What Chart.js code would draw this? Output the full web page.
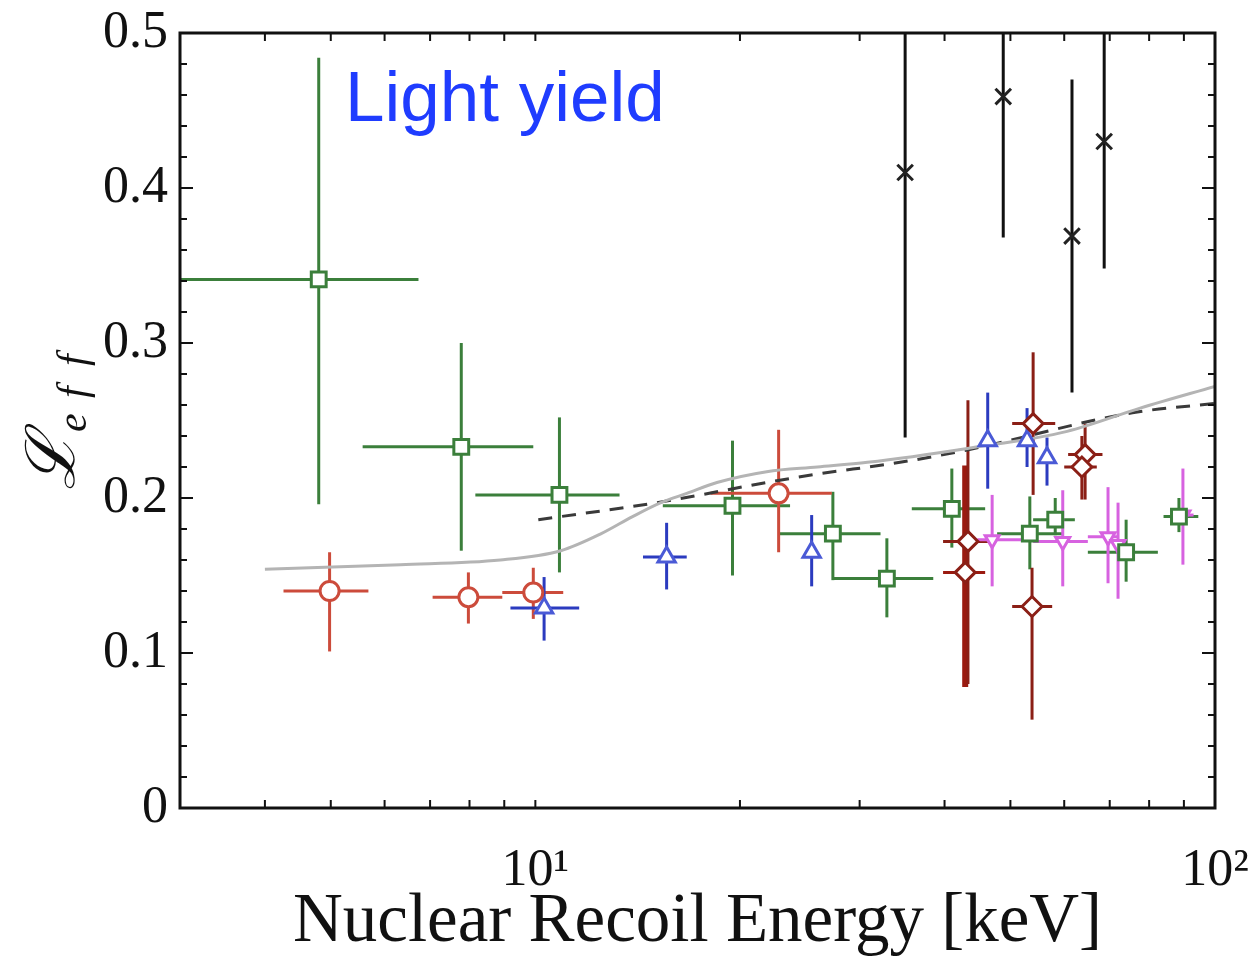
<!DOCTYPE html>
<html>
<head>
<meta charset="utf-8">
<script src="https://cdn.jsdelivr.net/npm/chart.js@4.4.1/dist/chart.umd.min.js"></script>
<style>
  body { margin: 0; background: #fff; }
  #wrap { width: 1256px; height: 957px; position: relative; }
</style>
</head>
<body>
<div id="wrap"><canvas id="leff"></canvas></div>
<script>
// values (energy in keV, Leff)
const greenE   = [4.80, 7.78, 10.85, 19.5, 27.4, 32.9, 41.0, 53.4, 58.2, 74.0, 88.5];
const greenL   = [0.341, 0.233, 0.202, 0.195, 0.177, 0.148, 0.193, 0.177, 0.186, 0.165, 0.188];
const greenELo = [3.0, 5.57, 8.16, 15.4, 22.9, 27.4, 35.8, 47.8, 54.0, 65.0, 84.0];
const greenEHi = [6.73, 9.93, 13.3, 23.7, 32.2, 38.5, 45.9, 59.7, 62.2, 82.4, 94.5];
const greenLLo = [0.196, 0.166, 0.152, 0.150, 0.147, 0.123, 0.168, 0.154, 0.176, 0.146, 0.178];
const greenLHi = [0.484, 0.300, 0.252, 0.237, 0.204, 0.174, 0.219, 0.201, 0.200, 0.186, 0.200];

const redE   = [4.98, 7.97, 9.93, 22.8];
const redL   = [0.140, 0.136, 0.139, 0.203];
const redELo = [4.26, 7.06, 8.94, 18.1];
const redEHi = [5.68, 8.94, 10.99, 27.3];
const redLLo = [0.101, 0.119, 0.122, 0.165];
const redLHi = [0.165, 0.152, 0.155, 0.244];

const brownE   = [43.3, 54.0, 53.8, 64.4, 63.7];
const brownL   = [0.172, 0.248, 0.130, 0.228, 0.220];
const brownELo = [39.8, 50.3, 50.3, 60.8, 60.0];
const brownEHi = [46.7, 58.2, 57.6, 68.3, 67.0];
const brownLLo = [0.080, 0.202, 0.057, 0.199, 0.199];
const brownLHi = [0.263, 0.294, 0.155, 0.248, 0.240];

const brownThickE   = [42.9];
const brownThickL   = [0.152];
const brownThickELo = [39.8];
const brownThickEHi = [45.9];
const brownThickLLo = [0.078];
const brownThickLHi = [0.221];

const blueE   = [10.3, 15.6, 25.5, 46.3, 52.9, 56.6];
const blueL   = [0.129, 0.162, 0.165, 0.237, 0.237, 0.226];
const blueELo = [9.19, 14.4, 25.5, 46.3, 52.9, 56.6];
const blueEHi = [11.6, 16.7, 25.5, 46.3, 52.9, 56.6];
const blueLLo = [0.108, 0.141, 0.143, 0.206, 0.220, 0.208];
const blueLHi = [0.149, 0.184, 0.189, 0.268, 0.258, 0.239];

const pinkE   = [47.0, 59.7, 69.6, 72.0, 89.7];
const pinkL   = [0.173, 0.172, 0.175, 0.170, 0.189];
const pinkELo = [44.7, 54.0, 65.0, 72.0, 86.0];
const pinkEHi = [52.0, 65.0, 72.0, 72.0, 93.0];
const pinkLLo = [0.143, 0.143, 0.145, 0.135, 0.157];
const pinkLHi = [0.202, 0.205, 0.207, 0.197, 0.219];

const blackE   = [35.0, 48.8, 61.6, 68.7];
const blackL   = [0.410, 0.459, 0.369, 0.430];
const blackLLo = [0.239, 0.368, 0.268, 0.348];
const blackLHi = [0.55, 0.55, 0.470, 0.55];

const grayE = [4.0, 6.33, 8.88, 10.9, 12.5, 13.9, 15.3, 16.7, 18.5, 21.9, 26.0, 30.8, 43.2, 60.6, 77.6, 100];
const grayL = [0.154, 0.157, 0.160, 0.166, 0.177, 0.188, 0.197, 0.203, 0.210, 0.217, 0.220, 0.223, 0.232, 0.243, 0.258, 0.272];

const dashE = [10.1, 15.1, 21.9, 25.6, 34.4, 43.2, 75.6, 100];
const dashL = [0.186, 0.197, 0.210, 0.215, 0.223, 0.231, 0.255, 0.261];

const xTickLabels = { 10: '10\u00B9', 100: '10\u00B2' };
const yTickValues = [0, 0.1, 0.2, 0.3, 0.4, 0.5];

const GREEN = '#3b7f3b', RED = '#cc4b3b', BROWN = '#8b1f16', BLUE = '#2b3bbf', PINK = '#d762e0';

function pts(xs, ys) { return xs.map((x, i) => ({ x: x, y: ys[i] })); }

// error bars: [x, y, xlo, xhi, ylo, yhi, colour, horizontal width, vertical width]
const errSets = [
  [greenE, greenL, greenELo, greenEHi, greenLLo, greenLHi, GREEN, 3, 3],
  [redE, redL, redELo, redEHi, redLLo, redLHi, RED, 3, 3],
  [brownThickE, brownThickL, brownThickELo, brownThickEHi, brownThickLLo, brownThickLHi, '#9a1a10', 3, 6],
  [brownE, brownL, brownELo, brownEHi, brownLLo, brownLHi, BROWN, 3, 3],
  [blueE, blueL, blueELo, blueEHi, blueLLo, blueLHi, BLUE, 3, 3],
  [pinkE, pinkL, pinkELo, pinkEHi, pinkLLo, pinkLHi, PINK, 3, 3],
  [blackE, blackL, blackE, blackE, blackLLo, blackLHi, '#111', 3, 3]
];

const errorBars = {
  id: 'errorBars',
  beforeDatasetsDraw(chart) {
    const { ctx, chartArea: a, scales: { x, y } } = chart;
    ctx.save();
    ctx.beginPath();
    ctx.rect(a.left, a.top, a.right - a.left, a.bottom - a.top);
    ctx.clip();
    errSets.forEach(s => {
      const [xs, ys, xlo, xhi, ylo, yhi, col, wx, wy] = s;
      ctx.strokeStyle = col;
      xs.forEach((v, i) => {
        const px = x.getPixelForValue(v), py = y.getPixelForValue(ys[i]);
        ctx.lineWidth = wx;
        ctx.beginPath();
        ctx.moveTo(x.getPixelForValue(xlo[i]), py);
        ctx.lineTo(x.getPixelForValue(xhi[i]), py);
        ctx.stroke();
        ctx.lineWidth = wy;
        ctx.beginPath();
        ctx.moveTo(px, y.getPixelForValue(ylo[i]));
        ctx.lineTo(px, y.getPixelForValue(yhi[i]));
        ctx.stroke();
      });
    });
    ctx.restore();
  }
};

const frame = {
  id: 'frame',
  afterDraw(chart) {
    const { ctx, chartArea: a, scales: { x, y } } = chart;
    ctx.save();
    ctx.strokeStyle = '#111';
    // inward ticks
    ctx.lineWidth = 2;
    const xt = [4, 5, 6, 7, 8, 9, 10, 20, 30, 40, 50, 60, 70, 80, 90];
    xt.forEach(v => {
      const px = x.getPixelForValue(v);
      ctx.beginPath();
      ctx.moveTo(px, a.bottom); ctx.lineTo(px, a.bottom - 8);
      ctx.moveTo(px, a.top); ctx.lineTo(px, a.top + 8);
      ctx.stroke();
    });
    for (let k = 1; k < 25; k++) {
      const py = y.getPixelForValue(k * 0.02);
      const len = k % 5 === 0 ? 13 : 7;
      ctx.beginPath();
      ctx.moveTo(a.left, py); ctx.lineTo(a.left + len, py);
      ctx.moveTo(a.right, py); ctx.lineTo(a.right - len, py);
      ctx.stroke();
    }
    ctx.lineWidth = 3;
    ctx.strokeRect(a.left, a.top, a.right - a.left, a.bottom - a.top);

    // y axis title: script L with subscript eff
    ctx.fillStyle = '#111';
    ctx.translate(74, 490);
    ctx.rotate(-Math.PI / 2);
    ctx.textBaseline = 'alphabetic';
    ctx.textAlign = 'left';
    ctx.font = 'italic 68px "DejaVu Serif", "Liberation Serif", serif';
    ctx.fillText('\u2112', 0, 0);
    ctx.font = 'italic 42px "Liberation Serif", serif';
    ctx.fillText('e', 58, 12);
    ctx.fillText('f', 92, 12);
    ctx.fillText('f', 124, 12);
    ctx.restore();

    ctx.save();
    ctx.fillStyle = '#1f3cff';
    ctx.font = '71px "Liberation Sans", Arial, sans-serif';
    ctx.textBaseline = 'alphabetic';
    ctx.fillText('Light yield', 345, 121);
    ctx.restore();
  }
};

const serif = '"Liberation Serif", "Times New Roman", serif';

new Chart(document.getElementById('leff'), {
  type: 'scatter',
  data: {
    datasets: [
      { data: pts(blackE, blackL), pointStyle: 'crossRot', pointRadius: 11, borderColor: '#222', borderWidth: 3 },
      { data: pts(greenE, greenL), pointStyle: 'rect', pointRadius: 10.5, borderColor: GREEN, backgroundColor: '#fff', borderWidth: 3 },
      { data: pts(redE, redL), pointStyle: 'circle', pointRadius: 9.5, borderColor: RED, backgroundColor: '#fff', borderWidth: 3 },
      { data: pts(brownThickE, brownThickL), pointStyle: 'rectRot', pointRadius: 10, borderColor: BROWN, backgroundColor: '#fff', borderWidth: 3 },
      { data: pts(brownE, brownL), pointStyle: 'rectRot', pointRadius: 10, borderColor: BROWN, backgroundColor: '#fff', borderWidth: 3 },
      { data: pts(blueE, blueL), pointStyle: 'triangle', pointRadius: 10, borderColor: '#4a5ad6', backgroundColor: '#fff', borderWidth: 3 },
      { data: pts(pinkE, pinkL), pointStyle: 'triangle', rotation: 180, pointRadius: 8, borderColor: PINK, backgroundColor: '#fff', borderWidth: 3 },
      { data: pts(grayE, grayL), showLine: true, pointRadius: 0, borderColor: '#b4b4b4', borderWidth: 3, cubicInterpolationMode: 'monotone' },
      { data: pts(dashE, dashL), showLine: true, pointRadius: 0, borderColor: '#3a3a3a', borderWidth: 3, borderDash: [14, 10], cubicInterpolationMode: 'monotone' }
    ]
  },
  options: {
    responsive: true,
    maintainAspectRatio: false,
    animation: false,
    layout: { padding: { left: 0, top: 33, right: 41, bottom: 0 } },
    plugins: { legend: { display: false }, tooltip: { enabled: false } },
    scales: {
      x: {
        type: 'logarithmic',
        min: 3, max: 100,
        grid: { display: false, drawTicks: false },
        border: { display: false },
        afterBuildTicks: s => { s.ticks = Object.keys(xTickLabels).map(v => ({ value: +v })); },
        afterFit: s => { s.height = 149; s.paddingLeft = 0; s.paddingRight = 0; },
        ticks: {
          autoSkip: false, maxRotation: 0, padding: 32, color: '#111',
          font: { family: serif, size: 52 },
          callback: v => xTickLabels[v] || ''
        },
        title: {
          display: true, text: 'Nuclear Recoil Energy [keV]', color: '#111',
          font: { family: serif, size: 69, lineHeight: 1 },
          padding: { top: 0, bottom: 0 }
        }
      },
      y: {
        min: 0, max: 0.5,
        grid: { display: false, drawTicks: false },
        border: { display: false },
        afterBuildTicks: s => { s.ticks = yTickValues.map(v => ({ value: v })); },
        afterFit: s => { s.width = 180; s.paddingTop = 0; s.paddingBottom = 0; },
        ticks: {
          autoSkip: false, padding: 12, color: '#111',
          font: { family: serif, size: 52 },
          callback: v => v === 0 ? '0' : v.toFixed(1)
        }
      }
    }
  },
  plugins: [errorBars, frame]
});
</script>
</body>
</html>
